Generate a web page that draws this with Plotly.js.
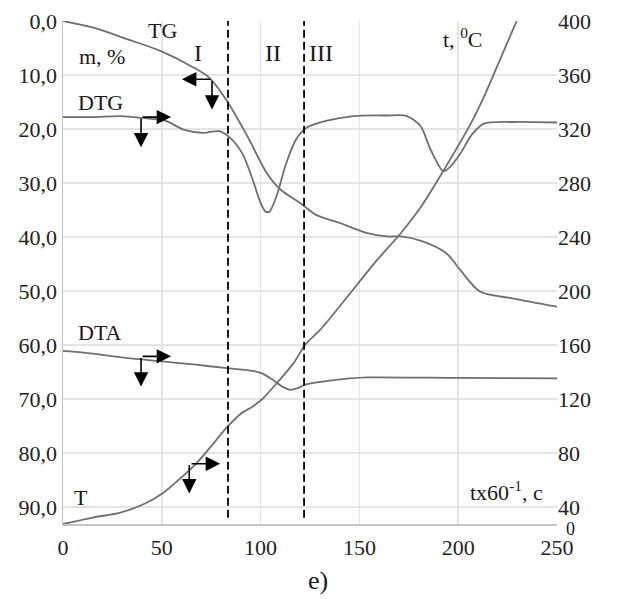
<!DOCTYPE html>
<html>
<head>
<meta charset="utf-8">
<script src="https://cdn.plot.ly/plotly-3.0.1.min.js"></script>
<style>html,body{margin:0;padding:0;background:#fff;}#chart{width:619px;height:599px;}</style>
</head>
<body>
<div id="chart"></div>
<script>
// ---- data ----
const xTicks = [0, 50, 100, 150, 200, 250];
const xTickText = ['0', '50', '100', '150', '200', '250'];
const massTicks = [0, 10, 20, 30, 40, 50, 60, 70, 80, 90];
const massTickText = ['0,0', '10,0', '20,0', '30,0', '40,0', '50,0', '60,0', '70,0', '80,0', '90,0'];
const tempTicks = [40, 80, 120, 160, 200, 240, 280, 320, 360, 400];
const tempTickText = ['40', '80', '120', '160', '200', '240', '280', '320', '360', '400'];
const tempBottomLabel = '0';

const tgTime = [0, 15, 32, 49, 66, 74, 83, 91, 95, 103, 110, 120, 128, 140, 154, 164, 171, 182, 194, 201, 211, 228, 250];
const tgMass = [0, 1.2, 3.3, 5.5, 8.6, 10.5, 14.8, 19.8, 22.5, 28.1, 31.2, 33.7, 35.9, 37.4, 39.3, 39.9, 39.9, 40.8, 43.0, 46.1, 50.1, 51.4, 52.9];

const dtgTime = [0, 15, 29, 41, 52, 61, 71, 79, 84.5, 91, 96, 100, 102.5, 104.5, 108, 113, 118, 123, 133, 147, 164, 174, 181, 186, 192.5, 196, 201, 207, 213, 228, 250];
const dtgVal = [17.8, 17.8, 17.6, 18.0, 18.5, 20.1, 20.7, 20.4, 21.6, 24.7, 29.4, 33.7, 35.3, 35.3, 32.5, 26.3, 21.9, 19.8, 18.5, 17.6, 17.5, 17.6, 19.5, 23.8, 27.8, 27.0, 24.6, 21.0, 19.0, 18.7, 18.8];

const dtaTime = [0, 15, 32, 49, 66, 83, 96, 101, 106, 111.5, 115, 118, 123, 133, 145, 154, 200, 250];
const dtaVal = [61.1, 61.6, 62.4, 63.0, 63.6, 64.3, 64.8, 65.3, 66.4, 67.8, 68.3, 68.1, 67.3, 66.7, 66.2, 66.0, 66.1, 66.2];

const tTime = [0, 15, 29, 41, 51, 59, 68, 76, 83, 90, 96, 101, 108, 116.5, 123, 130, 143.5, 159, 170.5, 181, 192.5, 206, 214, 222.8, 229.6];
const tTemp = [27.4, 32.2, 35.9, 42.2, 50.8, 60.7, 73.1, 86.8, 99.1, 109.1, 114.5, 120.2, 131.4, 146.2, 161, 171, 195, 223, 242, 262, 289, 323, 347, 377, 400];

const stageBounds = [83.5, 122];

// ---- styling ----
const serif = 'Liberation Serif, DejaVu Serif';
const curveLine = {color: '#6f6f6f', width: 1.8, shape: 'spline', smoothing: 0.8};

const traces = [
  {x: tgTime, y: tgMass, mode: 'lines', line: curveLine, yaxis: 'y', hoverinfo: 'skip'},
  {x: dtgTime, y: dtgVal, mode: 'lines', line: curveLine, yaxis: 'y', hoverinfo: 'skip'},
  {x: dtaTime, y: dtaVal, mode: 'lines', line: curveLine, yaxis: 'y', hoverinfo: 'skip'},
  {x: tTime, y: tTemp, mode: 'lines', line: curveLine, yaxis: 'y2', hoverinfo: 'skip'}
];

function label(text, x, y, size) {
  return {x: x, y: y, xref: 'x', yref: 'y', text: text, showarrow: false,
          font: {family: serif, size: size || 22, color: '#1a1a1a'}, xanchor: 'center', yanchor: 'middle'};
}
function arrow(x, y, ax, ay) {
  return {x: x, y: y, xref: 'x', yref: 'y', ax: ax, ay: ay, axref: 'pixel', ayref: 'pixel',
          text: '', showarrow: true, arrowhead: 2, arrowsize: 1.8, arrowwidth: 1.6, arrowcolor: '#000', standoff: 0};
}

const annotations = [
  label('TG', 50.1, 1.8),
  label('m, %', 19.5, 6.6),
  label('DTG', 18.9, 15.0),
  label('DTA', 18.9, 57.6),
  label('T', 9.1, 88.3),
  label('I', 68.3, 5.9, 24),
  label('II', 106.3, 5.9, 24),
  label('III', 130.5, 5.9, 24),
  label('t, <sup>0</sup>C', 202.4, 3.1),
  label('tx60<sup>-1</sup>, c', 224.2, 87.0),
  {x: 1, y: -0.009, xref: 'paper', yref: 'paper', text: tempBottomLabel, showarrow: false, xshift: 7,
   font: {family: serif, size: 18, color: '#222'}, xanchor: 'left', yanchor: 'middle'},
  {x: 0.516, y: -0.112, xref: 'paper', yref: 'paper', text: 'e)', showarrow: false,
   font: {family: serif, size: 26, color: '#1a1a1a'}, xanchor: 'center', yanchor: 'middle'},
  // TG arrows
  arrow(60.2, 10.8, 30, 0), arrow(75.4, 16.4, 0, -30),
  // DTG arrows
  arrow(54.7, 17.8, -30, 0), arrow(39.5, 23.4, 0, -30),
  // DTA arrows
  arrow(54.7, 62.1, -30, 0), arrow(39.5, 67.7, 0, -30),
  // T arrows
  arrow(79.5, 82.0, -30, 0), arrow(63.9, 87.5, 0, -30)
];

const shapes = stageBounds.map(b => ({type: 'line', xref: 'x', yref: 'y', x0: b, x1: b, y0: -0.6, y1: 92.7,
  line: {color: '#000', width: 1.8, dash: '8px,4px'}}));

const tickFont = {family: serif, size: 22, color: '#222'};

const layout = {
  width: 619, height: 599,
  margin: {l: 63, r: 62, t: 21, b: 75, pad: 0},
  paper_bgcolor: '#fff', plot_bgcolor: '#fff',
  showlegend: false,
  font: {family: serif},
  xaxis: {range: [0, 250], tickvals: xTicks, ticktext: xTickText, showgrid: true, gridcolor: '#e4e4e4', gridwidth: 1.5,
          zeroline: false, showline: true, linecolor: '#c4c4c4', linewidth: 1.5, ticks: '', ticklabelstandoff: 3,
          tickfont: tickFont, fixedrange: true},
  yaxis: {range: [93.15, 0], tickvals: massTicks, ticktext: massTickText, showgrid: true, gridcolor: '#e4e4e4', gridwidth: 1.5,
          zeroline: false, showline: true, linecolor: '#c4c4c4', linewidth: 1.5, ticks: '',
          tickfont: tickFont, fixedrange: true},
  yaxis2: {range: [27.4, 400], overlaying: 'y', side: 'right', tickvals: tempTicks, ticktext: tempTickText,
           showgrid: false, zeroline: false, showline: false, ticks: '',
           tickfont: tickFont, fixedrange: true},
  annotations: annotations,
  shapes: shapes
};

Plotly.newPlot('chart', traces, layout, {displayModeBar: false, staticPlot: true});
</script>
</body>
</html>
